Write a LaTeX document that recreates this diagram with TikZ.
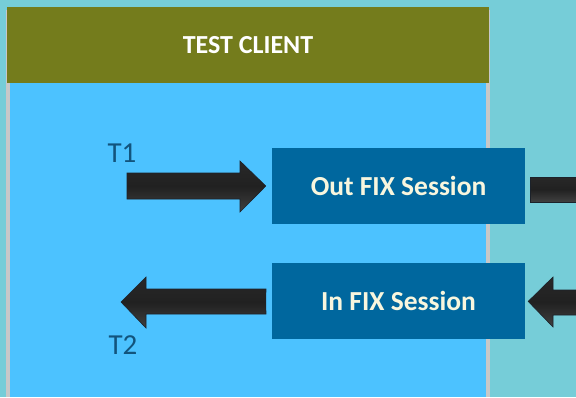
\documentclass[tikz,border=0pt]{standalone}
\usepackage{fontspec}
\setmainfont{Carlito}
\usetikzlibrary{positioning}
\definecolor{bgteal}{RGB}{118,205,216}
\definecolor{clientblue}{RGB}{76,194,255}
\definecolor{headolive}{RGB}{116,124,28}
\definecolor{fixblue}{RGB}{0,103,158}
\definecolor{framegray}{RGB}{200,200,200}
\definecolor{labelblue}{RGB}{18,84,125}
\definecolor{creamtext}{RGB}{248,246,222}
\definecolor{arrowtop}{RGB}{40,40,40}
\definecolor{arrowmid}{RGB}{33,33,33}
\definecolor{arrowbot}{RGB}{64,64,64}
\definecolor{arrowline}{RGB}{28,34,42}
\tikzset{
	fixbox/.style={fill=fixblue,minimum width=253pt,minimum height=76pt,inner sep=0pt,
		text=creamtext,font=\fontsize{27.5}{30}\selectfont\bfseries},
	tlabel/.style={text=labelblue,inner sep=0pt,font=\fontsize{29}{32}\selectfont},
	blockarrow/.style={draw=arrowline,line width=0.6pt,
		top color=arrowtop,bottom color=arrowbot,middle color=arrowmid}
}
\begin{document}
\begin{tikzpicture}[x=1pt,y=-1pt]
	\useasboundingbox (0,0) rectangle (576,397);
	\fill[bgteal] (0,0) rectangle (576,397);
	% test client frame
	\fill[framegray] (6,10) rectangle (490,397);
	\fill[clientblue] (10,83) rectangle (486,397);
	\node[fill=headolive,minimum width=482pt,minimum height=76pt,inner sep=0pt,
		text=white,font=\fontsize{26}{28}\selectfont\bfseries] (client) at (248,45) {TEST CLIENT};
	% sessions
	\node[fixbox] (out) at (398.5,186) {Out FIX Session};
	\node[fixbox,below=39pt of out] (in) {In FIX Session};
	% arrows
	\shade[blockarrow] (127,173) -- (240,173) -- (240,161) -- ([xshift=-6pt]out.west)
		-- (240,212) -- (240,199) -- (127,199) -- cycle;
	\shade[blockarrow] ([xshift=-6pt]in.west) -- (266,289) -- (146,289) -- (146,277)
		-- (121,302) -- (146,328) -- (146,314) -- (266,314) -- cycle;
	\shade[blockarrow] (530,177) rectangle (580,202);
	\shade[blockarrow] ([xshift=3pt]in.east) -- (553,277) -- (553,290) -- (580,290)
		-- (580,315) -- (553,315) -- (553,327) -- cycle;
	\node[tlabel] (t1) at (122,153) {T1};
	\node[tlabel] (t2) at (123,345) {T2};
\end{tikzpicture}
\end{document}
